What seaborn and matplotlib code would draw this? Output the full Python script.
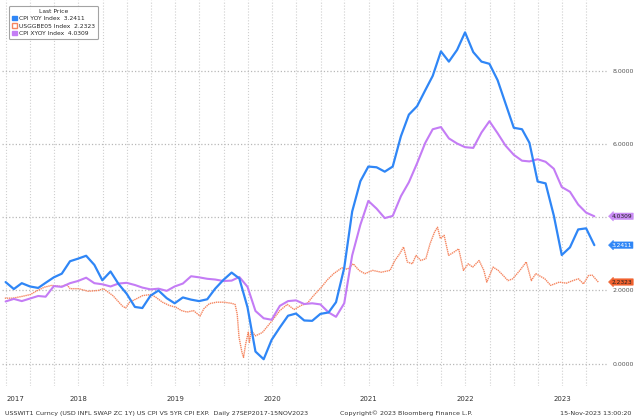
import matplotlib
matplotlib.use("Agg")
import matplotlib.pyplot as plt
import matplotlib.dates as mdates
from matplotlib.patches import Patch
import pandas as pd
import seaborn as sns

sns.set_style("white")
plt.rcParams["font.family"] = ["Liberation Sans Narrow", "DejaVu Sans"]

# monthly CPI prints, Sep 2017 .. Oct 2023 (plotted at month end)
cpi_yoy = [
    2.23, 2.04, 2.20, 2.11,
    2.07, 2.21, 2.36, 2.46, 2.80, 2.87, 2.95, 2.70, 2.28, 2.52, 2.18, 1.91,
    1.55, 1.52, 1.86, 2.00, 1.79, 1.65, 1.81, 1.75, 1.71, 1.76, 2.05, 2.29,
    2.49, 2.33, 1.54, 0.33, 0.12, 0.65, 0.99, 1.31, 1.37, 1.18, 1.17, 1.36,
    1.40, 1.68, 2.62, 4.16, 4.99, 5.39, 5.37, 5.25, 5.39, 6.22, 6.81, 7.04,
    7.48, 7.87, 8.54, 8.26, 8.58, 9.06, 8.52, 8.26, 8.20, 7.75, 7.11, 6.45,
    6.41, 6.04, 4.98, 4.93, 4.05, 2.97, 3.18, 3.67, 3.70, 3.24,
]
core_yoy = [
    1.70, 1.77, 1.71, 1.78,
    1.85, 1.83, 2.12, 2.10, 2.20, 2.26, 2.35, 2.20, 2.17, 2.11, 2.19, 2.21,
    2.15, 2.08, 2.03, 2.05, 1.99, 2.11, 2.19, 2.39, 2.36, 2.32, 2.30, 2.26,
    2.27, 2.37, 2.10, 1.44, 1.24, 1.20, 1.58, 1.71, 1.73, 1.63, 1.65, 1.62,
    1.40, 1.28, 1.65, 2.96, 3.80, 4.45, 4.24, 3.98, 4.04, 4.58, 4.96, 5.48,
    6.04, 6.41, 6.47, 6.16, 6.02, 5.92, 5.90, 6.32, 6.63, 6.30, 5.96, 5.71,
    5.55, 5.53, 5.59, 5.52, 5.33, 4.83, 4.70, 4.35, 4.13, 4.03,
]

# 5y breakeven
be_dates = [
    "2017-09-27", "2017-10-27", "2017-12-02", "2018-01-02", "2018-01-23",
    "2018-02-23", "2018-03-23", "2018-04-27", "2018-05-18", "2018-06-01",
    "2018-07-02", "2018-08-07", "2018-09-14", "2018-10-04", "2018-11-09",
    "2018-12-14", "2018-12-27", "2019-01-11", "2019-02-05", "2019-03-01",
    "2019-04-01", "2019-04-19", "2019-05-15", "2019-06-10", "2019-07-05",
    "2019-07-26", "2019-08-16", "2019-09-09", "2019-10-04", "2019-10-18",
    "2019-11-08", "2019-12-05", "2020-01-02", "2020-01-30", "2020-02-13",
    "2020-02-21", "2020-02-28", "2020-03-10", "2020-03-16", "2020-03-24",
    "2020-04-03", "2020-04-07", "2020-04-14", "2020-04-30", "2020-05-26",
    "2020-06-29", "2020-07-31", "2020-08-28", "2020-09-23", "2020-10-19",
    "2020-11-13", "2020-12-04", "2021-01-04", "2021-01-26", "2021-02-19",
    "2021-03-22", "2021-04-12", "2021-05-04", "2021-05-26", "2021-06-17",
    "2021-07-16", "2021-08-18", "2021-09-20", "2021-10-08", "2021-10-26",
    "2021-11-10", "2021-11-24", "2021-12-13", "2021-12-27", "2022-01-14",
    "2022-02-02", "2022-02-18", "2022-03-07", "2022-03-18", "2022-03-29",
    "2022-04-12", "2022-04-29", "2022-05-19", "2022-06-06", "2022-06-24",
    "2022-07-12", "2022-07-29", "2022-08-22", "2022-09-09", "2022-09-20",
    "2022-10-14", "2022-11-02", "2022-11-21", "2022-12-09", "2022-12-27",
    "2023-01-23", "2023-02-16", "2023-03-07", "2023-03-24", "2023-04-27",
    "2023-05-19", "2023-06-21", "2023-07-17", "2023-08-11", "2023-09-01",
    "2023-09-20", "2023-10-09", "2023-10-23", "2023-11-15",
]
be_values = [
    1.79, 1.79, 1.84, 1.89, 1.98,
    2.09, 2.14, 2.11, 2.16, 2.05,
    2.05, 1.98, 2.00, 2.05, 1.86,
    1.58, 1.52, 1.68, 1.77, 1.86,
    1.89, 1.82, 1.68, 1.59, 1.54,
    1.45, 1.41, 1.45, 1.30, 1.50,
    1.64, 1.68, 1.68, 1.65, 1.62,
    1.36, 0.72, 0.31, 0.17, 0.54,
    0.86, 0.58, 0.90, 0.76, 0.85,
    1.15, 1.45, 1.62, 1.48, 1.59,
    1.66, 1.85, 2.09, 2.29, 2.46,
    2.62, 2.58, 2.73, 2.55, 2.46,
    2.55, 2.50, 2.55, 2.82, 3.00,
    3.19, 2.78, 2.73, 2.96, 2.82,
    2.87, 3.28, 3.60, 3.73, 3.42,
    3.51, 2.96, 3.05, 3.14, 2.55,
    2.73, 2.64, 2.82, 2.55, 2.23,
    2.64, 2.55, 2.41, 2.27, 2.32,
    2.55, 2.78, 2.27, 2.46, 2.32,
    2.14, 2.23, 2.20, 2.27, 2.32,
    2.18, 2.41, 2.42, 2.23,
]

series_names = ["CPI YOY Index", "USGGBE05 Index", "CPI XYOY Index"]
last_prices = [3.2411, 2.2323, 4.0309]
series_colors = ["#2f86f6", "#f58660", "#c47cf5"]
badge_colors = ["#2f86f6", "#f0612e", "#c98cf5"]
y_ticks = [0, 2, 4, 6, 8]
year_labels = ["2017", "2018", "2019", "2020", "2021", "2022", "2023"]

month_ends = pd.date_range("2017-09-30", periods=len(cpi_yoy), freq="ME")
be_index = pd.to_datetime(be_dates)

fig = plt.figure(figsize=(6.35, 4.2), dpi=100)
ax = fig.add_axes([0.003, 0.082, 0.953, 0.918])

# quarterly dotted verticals + level gridlines
ax.xaxis.set_major_locator(mdates.MonthLocator(bymonth=[1, 4, 7, 10]))
ax.xaxis.set_major_formatter(plt.NullFormatter())
ax.grid(True, which="major", axis="x", color="#cfcfcf", linestyle=":", linewidth=0.8)
ax.grid(True, which="major", axis="y", color="#b8b8b8", linestyle=":", linewidth=0.9)

sns.lineplot(x=be_index, y=be_values, ax=ax, color=series_colors[1],
             linewidth=1.0, linestyle=(0, (1, 0.5)), zorder=3)
sns.lineplot(x=month_ends, y=core_yoy, ax=ax, color=series_colors[2],
             linewidth=1.5, zorder=4)
sns.lineplot(x=month_ends, y=cpi_yoy, ax=ax, color=series_colors[0],
             linewidth=1.6, zorder=5)

ax.set_xlim(pd.Timestamp("2017-09-16"), pd.Timestamp("2023-12-18"))
ax.set_ylim(-0.6, 9.945)
ax.set_xlabel("")
ax.set_ylabel("")

# year labels centred on the visible part of each year
for lab, pos in zip(year_labels, ["2017-11-06"] + [f"{y}-07-02" for y in year_labels[1:]]):
    ax.text(pd.Timestamp(pos), -0.035, lab, transform=ax.get_xaxis_transform(),
            ha="center", va="center", fontsize=5.0, color="#333333", clip_on=False)
ax.tick_params(axis="x", which="both", length=0)

ax.yaxis.tick_right()
ax.set_yticks(y_ticks)
ax.set_yticklabels([f"{v:.4f}" for v in y_ticks])
ax.tick_params(axis="y", length=0, pad=4, labelsize=4.5, colors="#555555")

for s in ax.spines.values():
    s.set_visible(False)

# last-price badges on the right
badge_text = ["white", "#222222", "#222222"]
for val, col, tc in zip(last_prices, badge_colors, badge_text):
    ax.text(1.008, val, f"{val:.4f}", transform=ax.get_yaxis_transform(),
            ha="left", va="center", fontsize=4.2, color=tc, zorder=10,
            bbox=dict(boxstyle="larrow,pad=0.12", fc=col, ec=col, lw=0.4),
            clip_on=False)

# legend box
handles = [
    Patch(facecolor=series_colors[0], edgecolor=series_colors[0]),
    Patch(facecolor="white", edgecolor=series_colors[1]),
    Patch(facecolor=series_colors[2], edgecolor=series_colors[2]),
]
labels = [f"{n}  {v:.4f}" for n, v in zip(series_names, last_prices)]
leg = ax.legend(handles, labels, title="Last Price", loc="upper left",
                bbox_to_anchor=(0.007, 0.993), fontsize=4.3, title_fontsize=4.3,
                handlelength=0.8, handleheight=0.8, handletextpad=0.35,
                borderpad=0.5, labelspacing=0.35, frameon=True, fancybox=True)
leg.get_frame().set_edgecolor("#8c8c8c")
leg.get_frame().set_linewidth(0.8)
leg.set_zorder(12)

# footer
fig.text(0.008, 0.016, "USSWIT1 Curncy (USD INFL SWAP ZC 1Y) US CPI VS 5YR CPI EXP.  Daily 27SEP2017-15NOV2023",
         fontsize=4.6, color="#333333", va="center", ha="left")
fig.text(0.64, 0.016, "Copyright\u00a9 2023 Bloomberg Finance L.P.",
         fontsize=4.6, color="#333333", va="center", ha="center")
fig.text(0.995, 0.016, "15-Nov-2023 13:00:20",
         fontsize=4.6, color="#333333", va="center", ha="right")

fig.savefig("out.png", dpi=100)
